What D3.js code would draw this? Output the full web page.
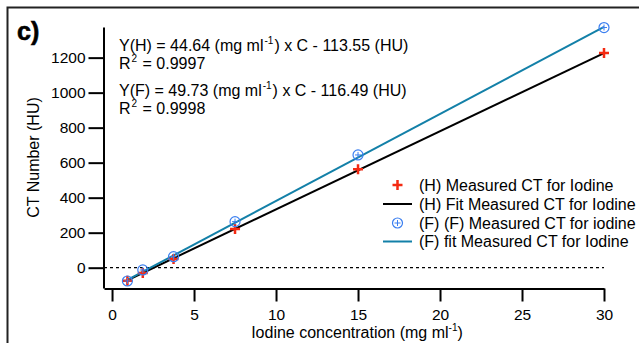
<!DOCTYPE html>
<html>
<head>
<meta charset="utf-8">
<script src="https://cdn.jsdelivr.net/npm/d3@7"></script>
<style>
  body { margin: 0; background: #fff; }
  svg text { font-family: "Liberation Sans", Arial, sans-serif; fill: #000; }
</style>
</head>
<body>
<svg id="chart" width="639" height="343"></svg>
<script>
const concentration = [0.9375, 1.875, 3.75, 7.5, 15, 30];
const measuredH = [-74, -30, 50, 221, 562, 1227];
const measuredF = [-76, -13, 63, 263, 644, 1372];
const fitH = { slope: 44.64, intercept: -113.55 };
const fitF = { slope: 49.73, intercept: -116.49 };
const xTicks = [0, 5, 10, 15, 20, 25, 30];
const yTicks = [0, 200, 400, 600, 800, 1000, 1200];
const legendLabels = [
  "(H) Measured CT for Iodine",
  "(H) Fit Measured CT for Iodine",
  "(F) (F) Measured CT for iodine",
  "(F) fit Measured CT for Iodine"
];

const red = "#f42a12";
const blue = "#3b7ff0";
const teal = "#1380a8";
const fs = 16;

const svg = d3.select("#chart");
const margin = { top: 27, right: 35, bottom: 55, left: 104 };
const width = 639, height = 343;

const x = d3.scaleLinear().domain([-0.49, 30]).range([margin.left, width - margin.right]);
const y = d3.scaleLinear().domain([-116, 1375]).range([height - margin.bottom, margin.top]);

// outer frame (top and left edges)
svg.append("path")
  .attr("d", `M7.5,${height} V7.5 H${width}`)
  .attr("fill", "none")
  .attr("stroke", "#222")
  .attr("stroke-width", 2);

svg.append("text")
  .attr("x", 17).attr("y", 40)
  .attr("font-size", 25).attr("font-weight", "bold")
  .attr("stroke", "#000").attr("stroke-width", 0.6)
  .text("c)");

// zero line
svg.append("line")
  .attr("x1", x.range()[0]).attr("x2", x.range()[1])
  .attr("y1", y(0)).attr("y2", y(0))
  .attr("stroke", "#000").attr("stroke-width", 1.2)
  .attr("stroke-dasharray", "3,3");

// axes
const xAxis = svg.append("g")
  .attr("transform", `translate(0,${y.range()[0] + 0.5})`)
  .call(d3.axisBottom(x).tickValues(xTicks).tickSize(13).tickSizeOuter(0).tickPadding(7));
const yAxis = svg.append("g")
  .attr("transform", `translate(${x.range()[0] - 0.5},0)`)
  .call(d3.axisLeft(y).tickValues(yTicks).tickFormat(d3.format("d")).tickSize(15).tickSizeOuter(0).tickPadding(3));

[xAxis, yAxis].forEach(g => {
  g.select(".domain").attr("stroke", "#000").attr("stroke-width", 2);
  g.selectAll(".tick line").attr("stroke", "#000").attr("stroke-width", 2);
  g.selectAll(".tick text").attr("font-size", 15.5).attr("font-family", "Liberation Sans, Arial, sans-serif");
});

// axis labels
svg.append("text")
  .attr("transform", `translate(39,${(y.range()[0] + y.range()[1]) / 2}) rotate(-90)`)
  .attr("text-anchor", "middle")
  .attr("font-size", fs)
  .text("CT Number (HU)");

const xLabel = svg.append("text")
  .attr("x", 357).attr("y", 338)
  .attr("text-anchor", "middle")
  .attr("font-size", fs);
xLabel.append("tspan").text("Iodine concentration (mg ml");
xLabel.append("tspan").attr("dy", -7).attr("font-size", 10).text("-1");
xLabel.append("tspan").attr("dy", 7).text(")");

// fit lines
const line = d3.line().x(d => x(d[0])).y(d => y(d[1]));
const ends = [concentration[0], concentration[concentration.length - 1]];
svg.append("path")
  .attr("d", line(ends.map(c => [c, fitH.slope * c + fitH.intercept])))
  .attr("stroke", "#000").attr("stroke-width", 2).attr("fill", "none");
svg.append("path")
  .attr("d", line(ends.map(c => [c, fitF.slope * c + fitF.intercept])))
  .attr("stroke", teal).attr("stroke-width", 2).attr("fill", "none");

// markers
function drawPlus(g, cx, cy) {
  g.append("path")
    .attr("d", `M${cx - 5},${cy} H${cx + 5} M${cx},${cy - 5} V${cy + 5}`)
    .attr("stroke", red).attr("stroke-width", 2.5);
}
function drawCirclePlus(g, cx, cy) {
  g.append("circle").attr("cx", cx).attr("cy", cy).attr("r", 5)
    .attr("fill", "none").attr("stroke", blue).attr("stroke-width", 1.2);
  g.append("path")
    .attr("d", `M${cx - 3},${cy} H${cx + 3} M${cx},${cy - 3} V${cy + 3}`)
    .attr("stroke", blue).attr("stroke-width", 1);
}
const marks = svg.append("g");
concentration.forEach((c, i) => drawPlus(marks, x(c), y(measuredH[i])));
concentration.forEach((c, i) => drawCirclePlus(marks, x(c), y(measuredF[i])));

// equations
function eqLine(yPos, name, slope, intercept) {
  const t = svg.append("text").attr("x", 119).attr("y", yPos).attr("font-size", fs);
  t.append("tspan").text(`Y(${name}) = ${slope.toFixed(2)} (mg ml`);
  t.append("tspan").attr("dx", 1).attr("dy", -7).attr("font-size", 10).text("-1");
  t.append("tspan").attr("dx", 1).attr("dy", 7).text(`) x C - ${Math.abs(intercept).toFixed(2)} (HU)`);
}
function r2Line(yPos, val) {
  const t = svg.append("text").attr("x", 119).attr("y", yPos).attr("font-size", fs);
  t.append("tspan").text("R");
  t.append("tspan").attr("dx", 1).attr("dy", -7).attr("font-size", 10).text("2");
  t.append("tspan").attr("dx", 1).attr("dy", 7).text(` = ${val}`);
}
eqLine(50.5, "H", fitH.slope, fitH.intercept);
r2Line(68.5, "0.9997");
eqLine(96, "F", fitF.slope, fitF.intercept);
r2Line(114, "0.9998");

// legend
const legend = svg.append("g");
const rowY = [185, 204, 223, 241.5];
drawPlus(legend, 397.5, rowY[0]);
legend.append("line").attr("x1", 383).attr("x2", 412).attr("y1", rowY[1]).attr("y2", rowY[1])
  .attr("stroke", "#000").attr("stroke-width", 2);
drawCirclePlus(legend, 397.5, rowY[2]);
legend.append("line").attr("x1", 383).attr("x2", 412).attr("y1", rowY[3]).attr("y2", rowY[3])
  .attr("stroke", teal).attr("stroke-width", 2);
legendLabels.forEach((lab, i) => {
  legend.append("text").attr("x", 419).attr("y", rowY[i] + 5.5)
    .attr("font-size", fs).text(lab);
});
</script>
</body>
</html>
